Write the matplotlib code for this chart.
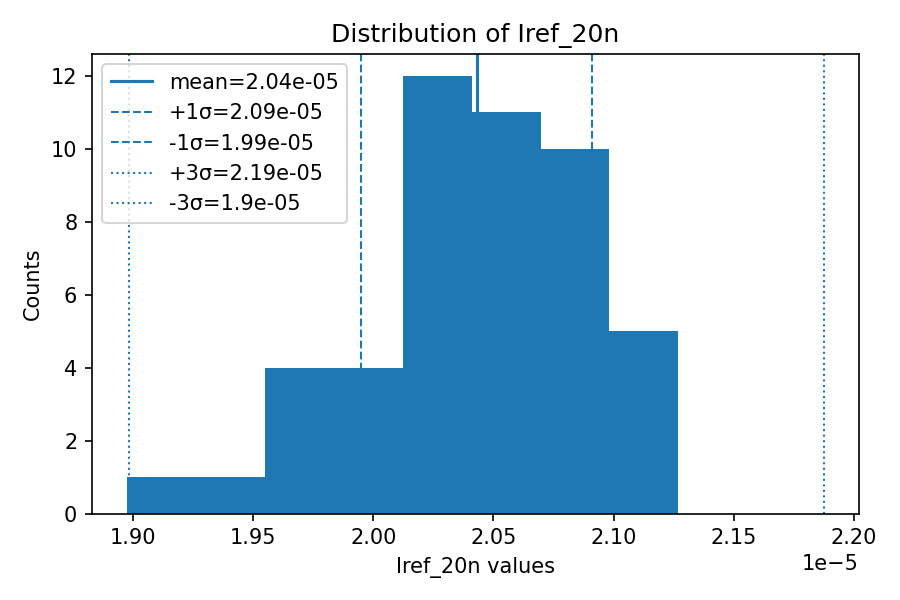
import numpy as np
import matplotlib
matplotlib.use("Agg")
import matplotlib.pyplot as plt

# histogram (values in A)
bin_edges = np.linspace(1.8974e-05, 2.1270e-05, 9)
counts = [1, 1, 4, 4, 12, 11, 10, 5]

mean = 2.0430e-05
sigma = 0.0482e-05

fig, ax = plt.subplots(figsize=(6, 4), dpi=150)

ax.hist(bin_edges[:-1], bins=bin_edges, weights=counts, color="C0")

ax.axvline(mean, color="C0", linestyle="-", linewidth=1.5, label=f"mean={mean:.3g}")
ax.axvline(mean + sigma, color="C0", linestyle="--", linewidth=1, label=f"+1σ={mean + sigma:.3g}")
ax.axvline(mean - sigma, color="C0", linestyle="--", linewidth=1, label=f"-1σ={mean - sigma:.3g}")
ax.axvline(mean + 3 * sigma, color="C0", linestyle=":", linewidth=1, label=f"+3σ={mean + 3 * sigma:.3g}")
ax.axvline(mean - 3 * sigma, color="C0", linestyle=":", linewidth=1, label=f"-3σ={mean - 3 * sigma:.3g}")

ax.set_title("Distribution of Iref_20n")
ax.set_xlabel("Iref_20n values")
ax.set_ylabel("Counts")
ax.legend(loc="upper left")

fig.tight_layout()
fig.savefig("out.png")
